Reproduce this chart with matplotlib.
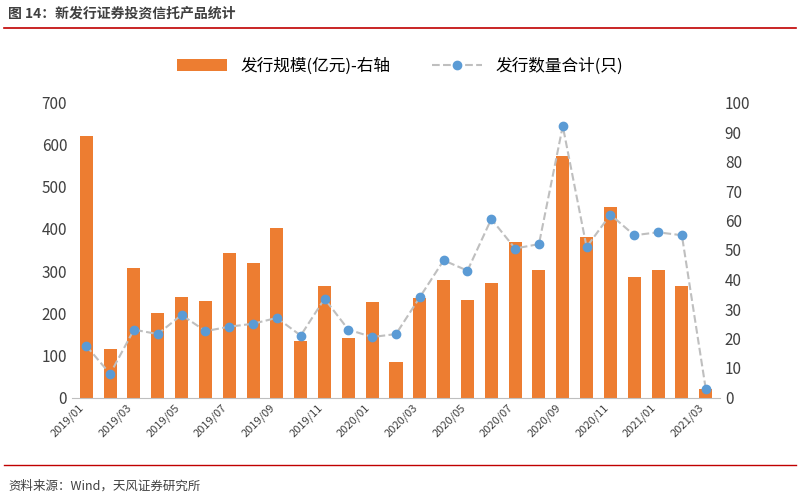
import matplotlib
matplotlib.use('Agg')
import matplotlib.pyplot as plt
import numpy as np

plt.rcParams['font.family'] = ['Noto Sans CJK SC', 'DejaVu Sans']

months = [f'{y}/{m:02d}' for y in (2019, 2020) for m in range(1, 13)] + ['2021/01', '2021/02', '2021/03']
scale = [620, 115, 308, 200, 238, 230, 343, 320, 402, 135, 265, 142,
         226, 85, 235, 278, 232, 272, 368, 303, 572, 380, 452, 287,
         303, 265, 20]
counts = [17.5, 8, 23, 21.5, 28, 22.5, 24, 25, 27, 21, 33.5, 23,
          20.5, 21.5, 34, 46.5, 43, 60.5, 50.5, 52, 92, 51, 62, 55,
          56, 55, 3]

fig = plt.figure(figsize=(8, 5), dpi=100)
ax = fig.add_axes([0.09, 0.205, 0.81, 0.59])
ax2 = ax.twinx()
x = np.arange(len(months))

b = ax.bar(x, scale, width=0.55, color='#ED7D31', label='发行规模(亿元)-右轴')
l, = ax2.plot(x, counts, color='#BFBFBF', linestyle='--', linewidth=1.5,
              marker='o', markersize=6, markerfacecolor='#5B9BD5',
              markeredgecolor='#5B9BD5', label='发行数量合计(只)')

ax.set_ylim(0, 700)
ax.set_yticks(range(0, 701, 100))
ax2.set_ylim(0, 100)
ax2.set_yticks(range(0, 101, 10))
ax.set_xlim(-0.6, len(months) - 0.4)
ax.set_xticks(x[::2])
ax.set_xticklabels(months[::2], rotation=45, ha='right', fontsize=8, color='#404040')
for a in (ax, ax2):
    a.tick_params(axis='y', labelsize=11, length=0, colors='#404040')
    for s in a.spines.values():
        s.set_visible(False)
ax.spines['bottom'].set_visible(True)
ax.spines['bottom'].set_color('#BFBFBF')
ax.tick_params(axis='x', length=0)

fig.legend(handles=[b, l], loc='upper center', bbox_to_anchor=(0.5, 0.915), ncol=2,
           frameon=False, fontsize=12, handlelength=3, columnspacing=2.5)

fig.text(0.01, 0.965, '图 14：新发行证券投资信托产品统计', fontsize=10, fontweight='bold', color='#404040')
fig.add_artist(plt.Line2D([0.005, 0.995], [0.945, 0.945], color='#C00000', linewidth=1.2))
fig.add_artist(plt.Line2D([0.005, 0.995], [0.07, 0.07], color='#C00000', linewidth=1.0))
fig.text(0.01, 0.02, '资料来源：Wind，天风证券研究所', fontsize=9, color='#404040')

fig.savefig('out.png', dpi=100, facecolor='white')
